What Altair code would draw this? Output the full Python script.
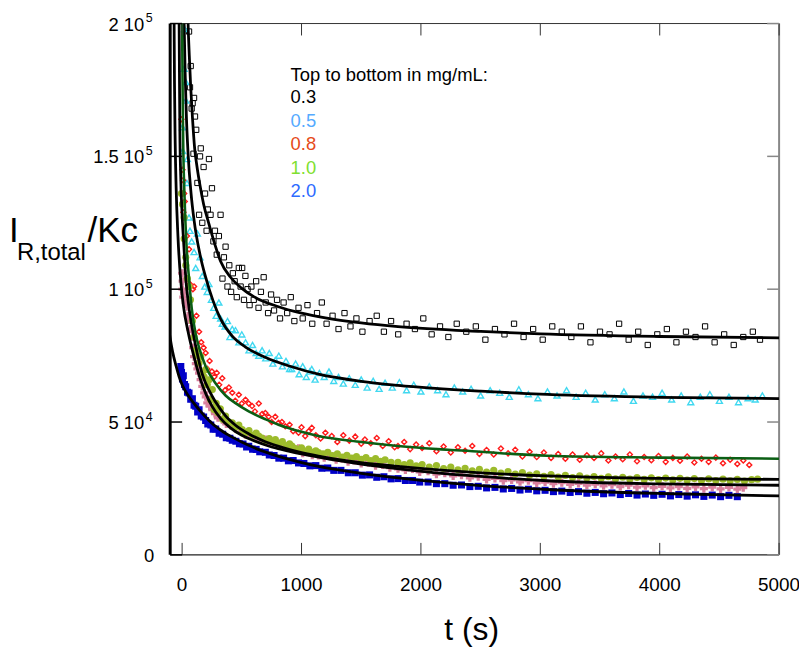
import altair as alt
import pandas as pd

# ---------------- data (t in s, values in units of 10^3) ----------------
X_TICKS = [0, 1000, 2000, 3000, 4000, 5000]
X_LABELS = ["0", "1000", "2000", "3000", "4000", "5000"]
Y_TICKS = [0, 50, 100, 150, 200]
Y_LABEL_MAIN = ["0", "5 10", "1 10", "1.5 10", "2 10"]
Y_LABEL_EXP = ["", "4", "5", "5", "5"]

X_TITLE = "t (s)"
Y_TITLE_MAIN = "I"
Y_TITLE_SUB = "R,total"
Y_TITLE_END = "/Kc"

LEGEND_TITLE = "Top to bottom in mg/mL:"
LEGEND_LABELS = ["0.3", "0.5", "0.8", "1.0", "2.0"]
LEGEND_COLORS = ["#000000", "#55AAFF", "#E64A19", "#7FE030", "#2E6BFF"]

BLACK_PTS = [(52,203),(58,197),(66,176),(72,184),(80,168),(88,170),(95,151),(100,172),(108,165),(118,160),
    (128,140),(142,128),(150,150),(156,153),(169,125),(180,146),(192,136),(205,122),(215,130),(225,149),
    (238,128),(250,138),(262,118),(275,122),(290,113),(308,120),(322,128),(338,104),(350,112),(364,116),
    (380,101),(395,109),(410,99),(425,106),(440,103),(458,97),(475,108),(490,101),(503,108),(518,96),
    (530,105),(548,100),(565,94),(580,101),(600,96),(620,103),(640,93),(660,99),(683,104.5),(700,95),
    (720,91),(745,98),(770,92),(795,96),(820,89),(850,95),(880,91),(910,97),(940,88),(975,93),
    (1010,89),(1050,94),(1090,87),(1130,91),(1170,95),(1210,87),(1260,90),(1310,85),(1360,91),(1410,86),
    (1460,89),(1510,84),(1570,88),(1630,90),(1690,84),(1750,88),(1810,83),(1880,87),(1950,85),(2020,89),
    (2090,83),(2160,86),(2230,82),(2300,87),(2380,84),(2460,86),(2540,81),(2620,85),(2700,83),(2780,87),
    (2860,82),(2940,85),(3020,81),(3100,86),(3180,84),(3260,82),(3340,86),(3420,80),(3500,84),(3580,83),
    (3660,87),(3740,81),(3820,84),(3900,79),(3980,83),(4060,85),(4140,80),(4220,84),(4300,82),(4380,86),
    (4460,80),(4540,83),(4620,79),(4700,82),(4780,84),(4840,81)]

CYAN_PTS = [(20,198),(31,171),(17,183),(31,178),(3,161),(5,152),(44,149),(40,140),(58,127),(66,122),
    (80,118),(100,114),(114,108),(128,121),(150,112),(169,105),(190,101),(210,99),(225,102),(245,96),
    (265,93),(285,90),(308,95),(322,89),(336,87),(360,86),(380,88),(400,82),(420,85),(447,84.6),
    (475,80),(500,83),(531,80),(560,77),(590,79),(620,76),(642,75),(670,77),(700,74),(730,76),
    (760,72),(781,73.4),(810,75),(840,71),(870,73),(900,70),(918,70),(950,72),(980,68),(1010,71),
    (1040,67),(1070,69),(1086,70),(1114,66),(1150,68.5),(1190,67),(1230,69),(1270,65.5),(1310,67),(1350,64.5),
    (1400,66.5),(1450,64),(1500,66),(1550,63),(1600,65.5),(1650,62.5),(1700,64.8),(1760,63),(1820,65),(1880,62),
    (1940,64),(2000,61.5),(2070,63.5),(2140,62),(2210,60.5),(2280,63),(2350,61.5),(2420,62.5),(2500,60),(2580,62),
    (2660,61),(2740,59.5),(2820,62.3),(2900,60.5),(2980,59),(3060,61.5),(3140,60),(3220,62),(3300,59.5),(3380,61),
    (3460,58.5),(3540,60.5),(3620,59),(3700,61.5),(3780,58),(3860,60),(3940,59.5),(4020,61),(4100,58.5),(4180,60),
    (4260,57.5),(4340,59.5),(4420,60.5),(4500,58),(4580,59.5),(4660,57.5),(4740,59),(4800,58.5),(4860,60)]

RED_PTS = [(-6,164),(3,145),(8,141),(17,136),(11,129),(22,133),(40,120),(58,115),(64,102),(90,100),
    (100,101),(120,90),(142,84),(160,80),(180,78),(197,76),(211,70),(230,73),(250,69),(270,67),
    (290,68.5),(310,64),(336,66.5),(360,62),(392,63),(420,61),(445,58),(475,60.3),(500,57),(531,58.4),
    (558,57),(586,56),(610,54),(642,57),(670,53),(697,53.4),(725,52),(750,50),(780,52),(808,49.7),
    (836,50),(864,48.4),(900,49),(930,46.5),(975,46),(1000,48),(1031,44.7),(1060,46.5),(1086,47.8),(1120,45),
    (1160,43.8),(1200,46),(1253,44.7),(1300,42.5),(1350,45),(1400,43),(1450,44.5),(1500,41.8),(1531,43.4),(1580,42),
    (1630,44),(1680,41),(1730,42.8),(1780,40.5),(1808,41),(1860,42.5),(1910,39.8),(1960,41.5),(2010,40.2),(2070,42),
    (2130,39),(2190,40.8),(2250,38.5),(2310,40.5),(2370,39.2),(2430,41),(2490,38),(2550,39.5),(2610,37.8),(2670,40),
    (2730,38.2),(2790,39.6),(2850,37),(2910,38.8),(2970,36.8),(3030,38.5),(3090,36.5),(3150,38),(3210,36.2),(3270,37.8),
    (3330,35.8),(3390,37.5),(3450,36.5),(3510,38.2),(3570,35.5),(3630,37),(3690,36),(3750,37.8),(3810,35.2),(3870,36.8),
    (3930,35.6),(3990,37.2),(4050,35),(4110,36.5),(4170,35.4),(4230,37),(4290,34.8),(4350,36.2),(4410,35),(4470,36.6),
    (4530,34.5),(4590,35.8),(4650,34.2),(4700,35.5),(4750,33.8)]

YG_PTS = [(-6,136),(3,132),(17,127),(17,119),(30,112),(31,109),(44,104),(58,101),(70,96),(86,88),
    (100,82),(114,77),(128,75),(142,72.2),(156,74.6),(170,68),(184,67),(197,69.7),(211,64),(225,65.9),
    (239,58.4),(253,62.2),(267,54.7),(285,57),(300,53.5),(320,55),(340,51),(364,52.2),(392,50),(420,49.7),
    (447,48),(475,48.8),(503,47.2),(531,46),(560,46.8),(590,45),(620,45.8),(642,44.7),(670,44),(700,43),
    (730,43.8),(760,42.5),(781,43.4),(810,41.8),(840,42.6),(870,41),(900,41.8),(920,40.9),(950,40),(975,39.5),
    (1000,40.3),(1030,39),(1060,39.8),(1090,38.6),(1120,39.2),(1142,38.5),(1180,38),(1220,38.6),(1260,37.4),(1300,38),
    (1340,36.8),(1380,37.5),(1420,36.4),(1460,37),(1500,36),(1540,36.6),(1580,35.5),(1620,36.2),(1660,35.2),(1700,35.8),
    (1750,34.8),(1808,34.8),(1860,34),(1910,34.6),(1960,33.5),(2010,34),(2070,33),(2130,33.6),(2190,32.5),(2250,33),
    (2310,32),(2370,32.6),(2430,31.6),(2490,32.2),(2550,31.2),(2610,31.8),(2670,30.8),(2730,31.3),(2790,30.4),(2850,31),
    (2910,30),(2970,30.5),(3030,29.6),(3090,30.2),(3150,29.3),(3210,29.9),(3270,29.1),(3330,29.7),(3390,28.9),(3450,29.5),
    (3510,28.8),(3570,29.4),(3630,28.6),(3690,29.2),(3750,28.5),(3810,29.1),(3870,28.4),(3930,29),(3990,28.3),(4050,28.9),
    (4110,28.2),(4170,28.8),(4230,28.1),(4290,28.7),(4350,28),(4410,28.6),(4470,28),(4530,28.5),(4590,27.9),(4650,28.4),
    (4710,27.8),(4770,28.3),(4820,28.5)]

PINK_PTS = [(0,106),(3,100),(4,103),(10,97),(17,98.4),(30,95),(44,93.4),(50,90),(58,88.4),(70,85),
    (86,82.1),(93,78),(100,74.6),(115,72),(128,70),(142,68.4),(155,66),(169,63.4),(185,61),(198,59.5),
    (211,57.2),(230,56),(253,54.7),(275,53.2),(300,51.6),(336,50.9),(370,49.3),(410,48.6),(447,47.5),(500,46.3),
    (530,45.2),(558,45.6),(590,44.3),(620,44.6),(660,43.3),(697,43.4),(730,42.2),(760,42.6),(790,41.4),(820,41.8),
    (864,40.7),(900,40.9),(940,39.8),(975,40.1),(1010,38.3),(1050,38.6),(1090,37.5),(1142,37.4),(1190,36.6),(1240,37),
    (1290,35.8),(1340,36.2),(1390,35.1),(1440,35.5),(1500,34.4),(1560,34.7),(1620,33.6),(1680,33.8),(1740,32.8),(1808,32.4),
    (1870,32),(1930,32.3),(1990,31.2),(2060,31.5),(2130,30.4),(2200,30.7),(2270,29.7),(2340,30),(2410,29),(2480,29.4),
    (2550,28.4),(2620,28.8),(2690,27.9),(2760,28.2),(2830,27.5),(2900,27.9),(2970,27.1),(3040,27.4),(3110,26.8),(3180,27.2),
    (3250,26.5),(3320,26.9),(3390,26.2),(3460,26.6),(3530,26),(3600,26.4),(3670,25.7),(3740,26.2),(3810,25.5),(3880,26),
    (3950,25.3),(4020,25.8),(4090,25.2),(4160,25.7),(4230,25),(4300,25.6),(4370,24.9),(4440,25.5),(4510,24.8),(4580,25.4),
    (4650,24.7),(4700,25.3)]

BLUE_PTS = [(-11,70.9),(-5,68.6),(3,66.2),(10,67.4),(20,64.1),(30,63.3),(45,61.2),(58,60.9),(72,58.6),(86,58.8),
    (100,56.3),(114,55.9),(130,53.8),(142,54.6),(160,52.3),(180,51.9),(197,50.6),(215,49.3),(240,48.9),(260,47.3),
    (281,47.4),(310,45.8),(340,45.4),(370,44.1),(400,43.9),(420,43.1),(450,42.8),(480,41.8),(510,41.7),(540,40.6),
    (558,40.9),(590,39.8),(620,39.7),(650,38.8),(697,38.6),(730,37.6),(770,37.4),(810,36.4),(850,36.4),(890,35.4),
    (930,35.5),(975,34.6),(1020,34.4),(1070,33.5),(1120,33.6),(1170,32.6),(1220,32.7),(1270,31.8),(1330,31.8),(1392,30.9),
    (1450,30.9),(1510,30),(1570,30.1),(1630,29.2),(1690,29.4),(1750,28.6),(1808,28.7),(1870,28),(1930,28),(1990,27.4),
    (2060,27.4),(2130,26.8),(2200,26.8),(2270,26.2),(2340,26.3),(2410,25.7),(2480,25.8),(2550,25.2),(2620,25.4),(2690,24.8),
    (2760,25),(2830,24.4),(2900,24.7),(2970,24.1),(3040,24.3),(3110,23.8),(3180,24),(3250,23.5),(3320,23.8),(3390,23.2),
    (3460,23.5),(3530,23),(3600,23.3),(3670,22.7),(3740,23.1),(3810,22.5),(3880,22.9),(3950,22.4),(4020,22.8),(4090,22.2),
    (4160,22.7),(4230,22.1),(4300,22.6),(4370,22),(4440,22.5),(4510,21.9),(4580,22.4),(4650,21.9)]

FIT_03 = [(42,215),(50,200),(60,188),(72,176),(86,165),(105,153),(125,146),(150,139),(180,132),(225,124.5),
    (270,117.5),(322,110.5),(406,104.5),(500,100.3),(600,97.2),(800,93.5),(1000,91),(1200,89.2),(1500,87.3),
    (1808,85.9),(2500,84.1),(3000,83.2),(4000,82.2),(5000,81.7)]
FIT_05 = [(12,215),(17,200),(25,182),(35,166),(50,151),(75,136),(100,126),(150,113),(197,104.5),(260,95.5),
    (322,88.8),(420,82.3),(531,78.2),(700,74.3),(918,70.8),(1142,68),(1500,65.3),(1808,63.8),(2500,61.6),
    (3058,60.4),(4000,59.3),(5000,58.8)]
FIT_08 = [(-3,215),(0,200),(5,170),(10,152),(20,135),(35,118),(58,104),(80,93),(114,83),(142,78),(197,71),
    (281,64.5),(364,60),(450,57),(558,54),(700,51),(808,49),(1000,46.3),(1142,44.7),(1500,42.5),(1808,41),
    (2500,38.8),(3058,37.3),(4000,36.6),(5000,36.2)]
FIT_10 = [(-27,215),(-25,200),(-22,178),(-19,160),(-12,143),(0,128),(15,116),(31,104),(55,94),(86,85),
    (114,78.5),(169,68),(230,61.5),(281,57.5),(360,52.5),(447,48.8),(560,45.5),(697,42.6),(850,40.3),(975,38.8),
    (1142,37.2),(1400,35.3),(1808,33.3),(2200,31.8),(2500,30.9),(3058,29.7),(4000,28.8),(5000,28.4)]
FIT_PINK = [(-69,215),(-67,200),(-64,178),(-58,155),(-50,138),(-35,120),(-11,103),(10,94),(50,84),(100,74.5),
    (150,66.5),(200,60.5),(250,56),(320,51.5),(400,48),(500,45),(600,43),(750,40.6),(900,38.9),(1200,36.3),
    (1500,34.2),(1800,32.5),(2200,30.6),(2500,29.5),(3058,27.9),(4000,26.7),(5000,26.2)]
FIT_20 = [(-115,86),(-100,81.5),(-80,76.5),(-50,71),(-25,67),(0,64),(58,59.5),(142,54.7),(225,50.6),(308,47.4),
    (400,44.8),(503,42.4),(600,40.4),(725,38.3),(850,36.5),(975,35),(1142,33.3),(1500,30.7),(1808,29),
    (2200,27.2),(2500,26.1),(3058,24.6),(4000,23.1),(5000,22.2)]

# ---------------- chart ----------------
FONT = "Liberation Sans"
W, H = 612, 534

xs = alt.Scale(domain=[-100, 5000], nice=False, zero=False)
ys = alt.Scale(domain=[0, 200], nice=False, zero=False)


def df(pts):
    return pd.DataFrame(pts, columns=["t", "v"])


def enc(ch):
    return ch.encode(x=alt.X("t:Q", scale=xs, axis=None), y=alt.Y("v:Q", scale=ys, axis=None))


one = pd.DataFrame({"k": [0]})
layers = []

# frame (drawn first, under the data)
layers.append(alt.Chart(one).mark_rule(color="#333333", strokeWidth=1).encode(
    x=alt.value(0), x2=alt.value(W), y=alt.value(0)))
layers.append(alt.Chart(one).mark_rule(color="#888888", strokeWidth=2).encode(
    x=alt.value(W), y=alt.value(0), y2=alt.value(H)))
layers.append(alt.Chart(one).mark_rule(color="#222222", strokeWidth=1.2).encode(
    x=alt.value(0), x2=alt.value(W), y=alt.value(H)))

# data
layers.append(enc(alt.Chart(df(BLACK_PTS)).mark_point(clip=True, shape="square", filled=False, size=28,
                                                      color="black", strokeWidth=1, opacity=1)))
layers.append(enc(alt.Chart(df(CYAN_PTS)).mark_point(clip=True, shape="triangle-up", filled=False, size=36,
                                                     color="#40D8F0", strokeWidth=1.4, opacity=1)))
layers.append(enc(alt.Chart(df(RED_PTS)).mark_point(clip=True, shape="diamond", filled=False, size=26,
                                                    color="#FF1A1A", strokeWidth=1.4, opacity=1)))
layers.append(enc(alt.Chart(df(PINK_PTS)).mark_point(clip=True, shape="cross", filled=True, size=66,
                                                     color="#D9809E", opacity=1)))
layers.append(enc(alt.Chart(df(YG_PTS)).mark_point(clip=True, shape="circle", filled=True, size=52,
                                                   color="#9CBB2C", opacity=1)))
layers.append(enc(alt.Chart(df(BLUE_PTS)).mark_point(clip=True, shape="square", filled=True, size=50,
                                                     color="#0000C8", opacity=1)))

# fits
for fit in [FIT_03, FIT_05, FIT_10, FIT_PINK, FIT_20]:
    layers.append(enc(alt.Chart(df(fit)).mark_line(clip=True, interpolate="monotone", color="black",
                                                   strokeWidth=2.8)))
layers.append(enc(alt.Chart(df(FIT_08)).mark_line(clip=True, interpolate="monotone", color="#0B5E14",
                                                  strokeWidth=2.6)))

# thick left axis line
layers.append(alt.Chart(one).mark_rule(color="black", strokeWidth=3).encode(
    x=alt.value(0), y=alt.value(0), y2=alt.value(H)))

# inward ticks
xt = pd.DataFrame({"tick": X_TICKS, "lab": X_LABELS})
yt = pd.DataFrame({"tick": Y_TICKS, "main": Y_LABEL_MAIN, "exp": Y_LABEL_EXP})
layers.append(alt.Chart(xt).mark_rule(color="#333333", strokeWidth=1).encode(
    x=alt.X("tick:Q", scale=xs, axis=None), y=alt.value(H), y2=alt.value(H - 12)))
layers.append(alt.Chart(xt).mark_rule(color="#333333", strokeWidth=1).encode(
    x=alt.X("tick:Q", scale=xs, axis=None), y=alt.value(0), y2=alt.value(12)))
layers.append(alt.Chart(yt).mark_rule(color="black", strokeWidth=1.5).encode(
    y=alt.Y("tick:Q", scale=ys, axis=None), x=alt.value(0), x2=alt.value(12)))
layers.append(alt.Chart(yt).mark_rule(color="#888888", strokeWidth=1.5).encode(
    y=alt.Y("tick:Q", scale=ys, axis=None), x=alt.value(W - 12), x2=alt.value(W)))

# tick labels
layers.append(alt.Chart(xt).mark_text(align="center", baseline="alphabetic", font=FONT, fontSize=19,
                                      color="black").encode(
    x=alt.X("tick:Q", scale=xs, axis=None), y=alt.value(H + 36), text="lab:N"))
layers.append(alt.Chart(yt).transform_filter("datum.exp != ''").mark_text(
    align="right", baseline="alphabetic", font=FONT, fontSize=18.5, color="black", dy=7).encode(
    y=alt.Y("tick:Q", scale=ys, axis=None), x=alt.value(-26), text="main:N"))
layers.append(alt.Chart(yt).transform_filter("datum.exp != ''").mark_text(
    align="left", baseline="alphabetic", font=FONT, fontSize=12.5, color="black", dy=-1.5).encode(
    y=alt.Y("tick:Q", scale=ys, axis=None), x=alt.value(-24.5), text="exp:N"))
layers.append(alt.Chart(yt).transform_filter("datum.exp == ''").mark_text(
    align="right", baseline="alphabetic", font=FONT, fontSize=18.5, color="black", dy=7).encode(
    y=alt.Y("tick:Q", scale=ys, axis=None), x=alt.value(-16), text="main:N"))


def txt(s, x, y, size, color="black", align="left"):
    return alt.Chart(pd.DataFrame({"s": [s]})).mark_text(
        align=align, baseline="alphabetic", font=FONT, fontSize=size, color=color
    ).encode(text="s:N", x=alt.value(x), y=alt.value(y))


# axis titles
layers.append(txt(X_TITLE, 303, 620, 32, align="center"))
layers.append(txt(Y_TITLE_MAIN, -162, 220, 35))
layers.append(txt(Y_TITLE_SUB, -154, 238, 24))
layers.append(txt(Y_TITLE_END, -83, 220, 35))

# legend text
layers.append(txt(LEGEND_TITLE, 121, 58, 18.5))
for lab, col, yy in zip(LEGEND_LABELS, LEGEND_COLORS, [80.3, 104, 127.3, 151, 174.7]):
    layers.append(txt(lab, 121, yy, 18.5, col))

chart = alt.layer(*layers).properties(
    width=W, height=H,
    padding={"left": 163, "top": 14, "right": 20, "bottom": 92},
    autosize=alt.AutoSizeParams(type="none"),
    background="white",
).configure_view(stroke="transparent")

chart.save("out.html", embed_options={"renderer": "svg", "actions": False})
